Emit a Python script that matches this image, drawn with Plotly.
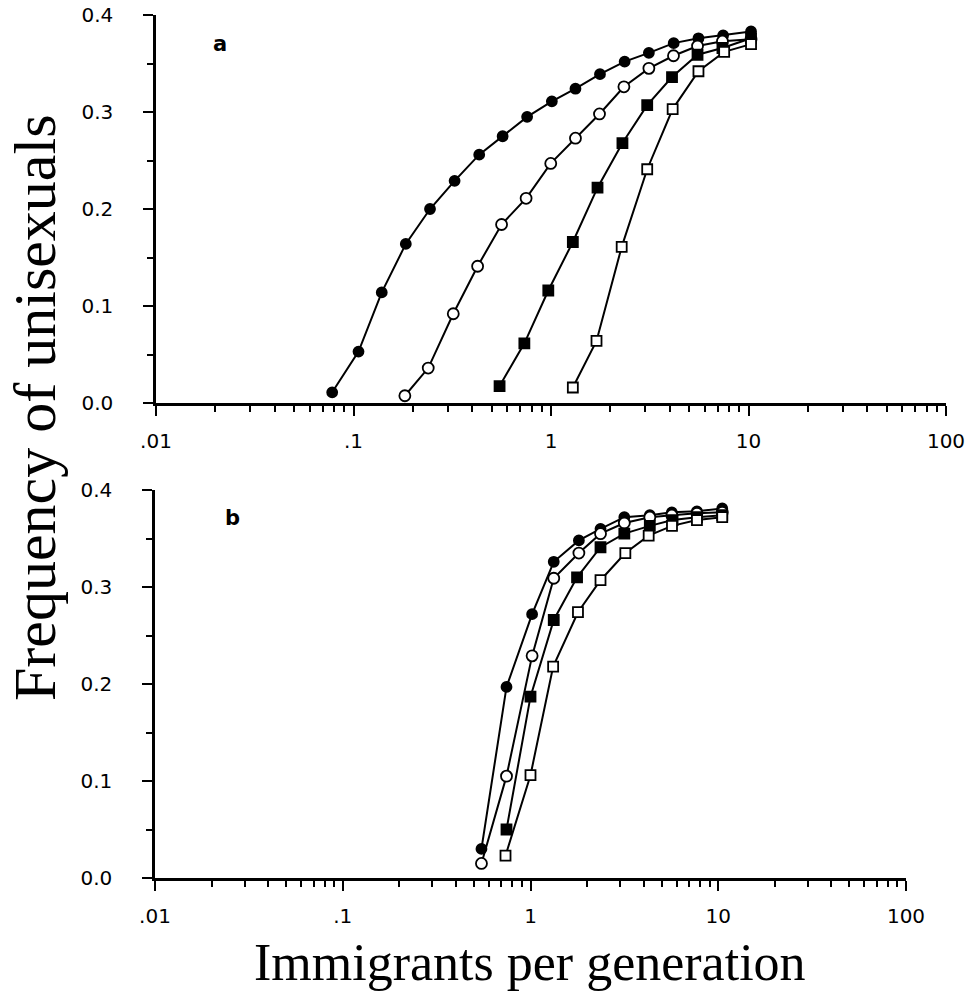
import plotly.graph_objects as go

W, H = 970, 1002

# ---------------- Panel a data ----------------
a_fc_x = [0.078, 0.106, 0.139, 0.184, 0.244, 0.325, 0.433, 0.569, 0.757, 1.01, 1.33, 1.77, 2.36, 3.13, 4.18, 5.58, 7.44, 10.3]
a_fc_y = [0.011, 0.053, 0.114, 0.164, 0.200, 0.229, 0.256, 0.275, 0.295, 0.311, 0.324, 0.339, 0.352, 0.361, 0.371, 0.376, 0.379, 0.383]

a_oc_x = [0.182, 0.239, 0.320, 0.425, 0.562, 0.748, 0.997, 1.33, 1.76, 2.34, 3.13, 4.17, 5.52, 7.38, 10.3]
a_oc_y = [0.0075, 0.036, 0.092, 0.141, 0.184, 0.211, 0.247, 0.273, 0.298, 0.326, 0.345, 0.358, 0.368, 0.373, 0.375]

a_fs_x = [0.549, 0.733, 0.969, 1.29, 1.72, 2.30, 3.07, 4.10, 5.52, 7.38, 10.3]
a_fs_y = [0.0175, 0.0615, 0.116, 0.166, 0.222, 0.268, 0.307, 0.336, 0.359, 0.366, 0.376]

a_os_x = [1.29, 1.70, 2.28, 3.07, 4.13, 5.58, 7.53, 10.3]
a_os_y = [0.016, 0.064, 0.161, 0.241, 0.303, 0.342, 0.362, 0.370]

# ---------------- Panel b data ----------------
b_fc_x = [0.548, 0.745, 1.02, 1.33, 1.81, 2.36, 3.16, 4.32, 5.66, 7.70, 10.5]
b_fc_y = [0.030, 0.197, 0.272, 0.326, 0.348, 0.360, 0.372, 0.374, 0.377, 0.378, 0.381]

b_oc_x = [0.548, 0.745, 1.02, 1.33, 1.81, 2.36, 3.16, 4.32, 5.66, 7.70, 10.5]
b_oc_y = [0.015, 0.105, 0.229, 0.309, 0.335, 0.355, 0.366, 0.372, 0.374, 0.376, 0.377]

b_fs_x = [0.745, 1.0, 1.33, 1.77, 2.36, 3.16, 4.32, 5.71, 7.70, 10.5]
b_fs_y = [0.050, 0.187, 0.266, 0.310, 0.341, 0.355, 0.363, 0.369, 0.372, 0.374]

b_os_x = [0.736, 1.0, 1.32, 1.79, 2.36, 3.20, 4.26, 5.67, 7.70, 10.5]
b_os_y = [0.023, 0.106, 0.218, 0.274, 0.307, 0.335, 0.353, 0.363, 0.369, 0.372]

x_tickvals = [0.01, 0.1, 1, 10, 100]
x_ticktext = [".01", ".1", "1", "10", "100"]
y_tickvals = [0.0, 0.1, 0.2, 0.3, 0.4]
y_ticktext = ["0.0", "0.1", "0.2", "0.3", "0.4"]

x_minor = [m * 10 ** e for e in range(-2, 2) for m in range(2, 10)]
y_minor = [0.05, 0.15, 0.25, 0.35]

fig = go.Figure()

def add_series(x, y, symbol, fill, xa, ya, size):
    fig.add_trace(go.Scatter(
        x=x, y=y, mode="lines+markers", xaxis=xa, yaxis=ya,
        line=dict(color="black", width=2),
        marker=dict(symbol=symbol, size=size, color=fill,
                    line=dict(color="black", width=1.8)),
        showlegend=False, cliponaxis=False))

for xa, ya, series in [
    ("x", "y", [(a_fc_x, a_fc_y), (a_oc_x, a_oc_y), (a_fs_x, a_fs_y), (a_os_x, a_os_y)]),
    ("x2", "y2", [(b_fc_x, b_fc_y), (b_oc_x, b_oc_y), (b_fs_x, b_fs_y), (b_os_x, b_os_y)]),
]:
    styles = [("circle", "black", 10), ("circle", "white", 11),
              ("square", "black", 10), ("square", "white", 10)]
    for (sx, sy), (sym, fill, sz) in zip(series, styles):
        add_series(sx, sy, sym, fill, xa, ya, sz)

def px_x(p):
    return p / W

def px_y(p):
    return 1 - p / H

tickfont = dict(family="DejaVu Sans, Arial, sans-serif", size=20, color="black")

def xaxis_cfg(x0, x1, anchor):
    return dict(
        type="log", range=[-2, 2], domain=[px_x(x0), px_x(x1)], anchor=anchor,
        automargin=False,
        showline=True, linecolor="black", linewidth=2.5, showgrid=False, zeroline=False,
        ticks="outside", ticklen=10, tickwidth=2, tickcolor="black",
        tickvals=x_tickvals, ticktext=x_ticktext, tickfont=tickfont,
        ticklabelstandoff=8,
        minor=dict(tickvals=x_minor, ticks="outside", ticklen=6, tickwidth=2,
                   tickcolor="black", showgrid=False),
    )

def yaxis_cfg(y_top, y_bot, anchor):
    return dict(
        range=[0, 0.4], domain=[px_y(y_bot), px_y(y_top)], anchor=anchor,
        automargin=False,
        showline=True, linecolor="black", linewidth=2.5, showgrid=False, zeroline=False,
        ticks="outside", ticklen=10, tickwidth=2, tickcolor="black",
        tickvals=y_tickvals, ticktext=y_ticktext, tickfont=tickfont,
        ticklabelstandoff=26,
        minor=dict(tickvals=y_minor, ticks="outside", ticklen=6, tickwidth=2,
                   tickcolor="black", showgrid=False),
    )

fig.update_layout(
    width=W, height=H,
    margin=dict(l=0, r=0, t=0, b=0),
    paper_bgcolor="white", plot_bgcolor="white",
    xaxis=xaxis_cfg(156, 946, "y"),
    yaxis=yaxis_cfg(15, 403, "x"),
    xaxis2=xaxis_cfg(155, 906, "y2"),
    yaxis2=yaxis_cfg(490, 878, "x2"),
    annotations=[
        dict(text="<b>a</b>", x=px_x(220), y=px_y(44), xref="paper", yref="paper",
             xanchor="center", yanchor="middle", showarrow=False,
             font=dict(family="DejaVu Sans, Arial", size=21, color="black")),
        dict(text="<b>b</b>", x=px_x(232), y=px_y(518), xref="paper", yref="paper",
             xanchor="center", yanchor="middle", showarrow=False,
             font=dict(family="DejaVu Sans, Arial", size=21, color="black")),
        dict(text="Frequency of unisexuals", x=px_x(35), y=px_y(408), xref="paper", yref="paper",
             xanchor="center", yanchor="middle", textangle=-90, showarrow=False,
             font=dict(family="Liberation Serif, Times New Roman, serif", size=60, color="black")),
        dict(text="Immigrants per generation", x=px_x(530), y=px_y(962), xref="paper", yref="paper",
             xanchor="center", yanchor="middle", showarrow=False,
             font=dict(family="Liberation Serif, Times New Roman, serif", size=52, color="black")),
    ],
)

fig.write_html("out.html", config={"displayModeBar": False},
               post_script="document.body.style.margin='0';document.body.style.overflow='hidden';")
